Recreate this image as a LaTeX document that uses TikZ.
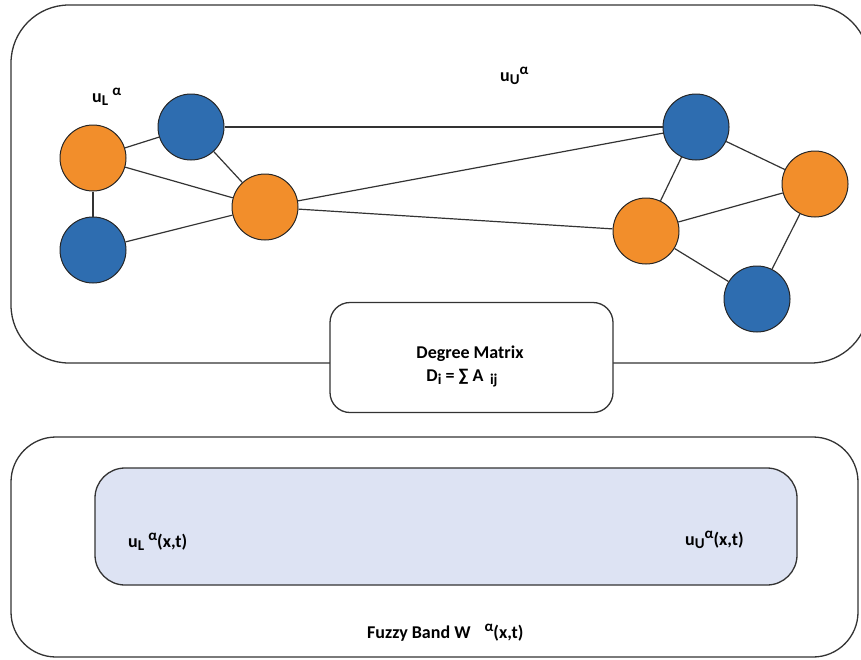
\documentclass[tikz,border=0pt]{standalone}
\usepackage{fontspec}
\setmainfont{Carlito}
\definecolor{nodeorange}{HTML}{F28E2B}
\definecolor{nodeblue}{HTML}{2E6DB0}
\definecolor{bandfill}{HTML}{DDE3F3}
\definecolor{linegray}{HTML}{333333}
\newcommand{\lowtext}[1]{\raisebox{-0.35ex}{\fontsize{15}{15}\selectfont #1}}
\newcommand{\hightext}[1]{\raisebox{0.8ex}{\fontsize{15}{15}\selectfont #1}}
\begin{document}
\begin{tikzpicture}[x=1pt,y=-1pt,
  vtx/.style={circle,draw=black!85,line width=1pt,minimum size=66pt,inner sep=0pt},
  orangevtx/.style={vtx,fill=nodeorange},
  bluevtx/.style={vtx,fill=nodeblue},
  edge/.style={draw=linegray,line width=1.2pt},
  frame/.style={draw=linegray,line width=1.3pt},
  lbl/.style={font=\bfseries\fontsize{18}{20}\selectfont,inner sep=0pt,anchor=base west}]
\useasboundingbox (0,0) rectangle (861,659);
\clip (0,0) rectangle (861,659);
% frames
\draw[frame,rounded corners=58pt] (11,5) rectangle (869,363);
\draw[frame,rounded corners=45pt] (11,437) rectangle (858,657);
\draw[frame,fill=bandfill,rounded corners=30pt] (95,468) rectangle (797,585);
\node[frame,fill=white,rounded corners=20pt,minimum width=283pt,minimum height=110pt,inner sep=0pt] (deg) at (471.5,357.5) {};
% vertices
\node[orangevtx] (a) at (93,158) {};
\node[bluevtx]   (b) at (191,127) {};
\node[bluevtx]   (c) at (93,250) {};
\node[orangevtx] (d) at (265,207) {};
\node[bluevtx]   (e) at (696,127) {};
\node[orangevtx] (f) at (815,184) {};
\node[orangevtx] (g) at (646,231) {};
\node[bluevtx]   (h) at (757,299) {};
% edges
\draw[edge] (a) -- (b);
\draw[edge] (a) -- (d);
\draw[edge] (a) -- (c);
\draw[edge] (c) -- (d);
\draw[edge] (b) -- (d);
\draw[edge] (b) -- (e);
\draw[edge] (d) -- (e);
\draw[edge] (d) -- (g);
\draw[edge] (e) -- (g);
\draw[edge] (e) -- (f);
\draw[edge] (g) -- (f);
\draw[edge] (g) -- (h);
\draw[edge] (f) -- (h);
% labels
\node[lbl] (ul) at (92,102) {u\lowtext{L} \hightext{α}};
\node[lbl] (uu) at (500,81) {u\lowtext{U}\hightext{α}};
\node[lbl,anchor=base] (degt1) at (470,358) {Degree Matrix};
\node[lbl,anchor=base] (degt2) at (462,381) {D\lowtext{i} = ∑ A \lowtext{\,ij}};
\node[lbl] (bl) at (128,547) {u\lowtext{L} \hightext{α}(x,t)};
\node[lbl] (br) at (685,545) {u\lowtext{U}\hightext{α}(x,t)};
\node[lbl] (fb) at (367,638) {Fuzzy Band W\hspace{14pt}\hightext{α}(x,t)};
\end{tikzpicture}
\end{document}
